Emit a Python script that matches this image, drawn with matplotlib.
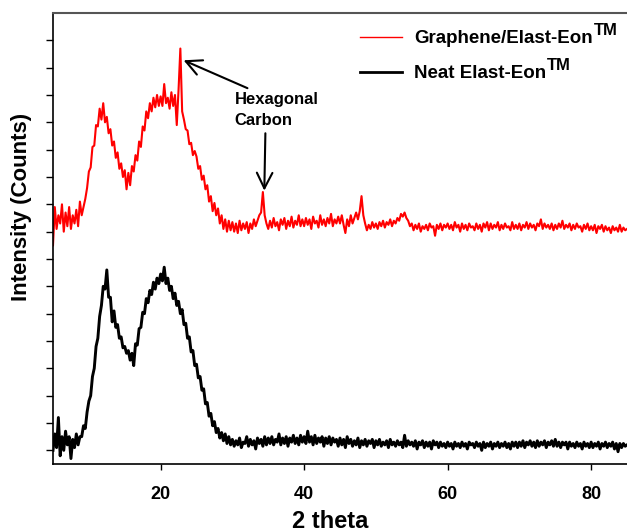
import matplotlib
matplotlib.use("Agg")
import matplotlib.pyplot as plt
import numpy as np

plt.rcParams.update({
    "font.family": "sans-serif",
    "font.sans-serif": ["Liberation Sans", "DejaVu Sans"],
    "font.weight": "bold",
})

# 2 theta scan, 5 to 85 deg in 0.25 deg steps (20 points per row below)
two_theta = np.arange(5.0, 85.001, 0.25)

# intensity (arbitrary units, the two scans are offset vertically)
neat_counts = [
    0.0, 0.6, 0.1, 1.2, -0.2, 0.5, 0.0, 0.7, 0.2, 0.5, -0.3, 0.4, 0.1, 0.6, 0.2, 0.5, 0.5, 0.9, 0.8, 1.4,
    1.8, 2.0, 2.7, 3.0, 3.8, 4.1, 4.9, 5.3, 6.0, 5.9, 6.6, 5.6, 5.6, 4.7, 5.1, 4.5, 4.6, 4.1, 4.15, 3.75,
    3.8, 3.55, 3.65, 3.3, 3.55, 3.1, 3.9, 3.85, 4.45, 4.5, 5.05, 5.0, 5.55, 5.4, 5.85, 5.7, 6.15, 5.9, 6.3, 6.1,
    6.45, 6.2, 6.7, 6.1, 6.3, 5.85, 6.0, 5.55, 5.75, 5.3, 5.45, 5.0, 5.15, 4.6, 4.65, 4.1, 4.15, 3.6, 3.65, 3.1,
    3.15, 2.65, 2.7, 2.2, 2.25, 1.7, 1.75, 1.25, 1.35, 0.9, 1.05, 0.65, 0.8, 0.45, 0.65, 0.35, 0.6, 0.25, 0.5, 0.2,
    0.4, 0.15, 0.35, 0.2, 0.45, 0.1, 0.3, 0.25, 0.5, 0.15, 0.4, 0.2, 0.35, 0.05, 0.45, 0.25, 0.4, 0.15, 0.5, 0.2,
    0.45, 0.25, 0.5, 0.2, 0.4, 0.3, 0.6, 0.2, 0.45, 0.25, 0.5, 0.15, 0.45, 0.3, 0.55, 0.25, 0.45, 0.2, 0.55, 0.3,
    0.5, 0.25, 0.7, 0.3, 0.5, 0.2, 0.55, 0.25, 0.45, 0.3, 0.5, 0.15, 0.45, 0.25, 0.5, 0.2, 0.45, 0.3, 0.4, 0.15,
    0.45, 0.2, 0.4, 0.1, 0.5, 0.25, 0.4, 0.15, 0.35, 0.2, 0.45, 0.1, 0.35, 0.2, 0.4, 0.15, 0.35, 0.25, 0.4, 0.1,
    0.35, 0.2, 0.4, 0.15, 0.3, 0.2, 0.35, 0.1, 0.4, 0.2, 0.3, 0.15, 0.35, 0.2, 0.3, 0.1, 0.55, 0.15, 0.35, 0.2,
    0.3, 0.15, 0.35, 0.05, 0.3, 0.2, 0.35, 0.1, 0.3, 0.15, 0.3, 0.05, 0.35, 0.2, 0.3, 0.1, 0.3, 0.15, 0.25, 0.1,
    0.3, 0.15, 0.25, 0.05, 0.3, 0.15, 0.25, 0.1, 0.3, 0.15, 0.25, 0.05, 0.3, 0.2, 0.25, 0.1, 0.3, 0.15, 0.25, 0.0,
    0.3, 0.1, 0.25, 0.15, 0.3, 0.05, 0.25, 0.15, 0.3, 0.1, 0.25, 0.15, 0.3, 0.1, 0.25, 0.05, 0.3, 0.15, 0.3, 0.1,
    0.3, 0.15, 0.35, 0.1, 0.3, 0.2, 0.35, 0.15, 0.3, 0.1, 0.35, 0.15, 0.3, 0.2, 0.35, 0.1, 0.3, 0.2, 0.35, 0.15,
    0.4, 0.15, 0.3, 0.1, 0.3, 0.2, 0.3, 0.05, 0.3, 0.15, 0.25, 0.1, 0.3, 0.15, 0.25, 0.05, 0.3, 0.15, 0.25, 0.1,
    0.3, 0.1, 0.25, 0.15, 0.3, 0.05, 0.25, 0.15, 0.3, 0.1, 0.25, 0.15, 0.3, 0.05, 0.25, -0.05, 0.25, 0.1, 0.25, 0.15,
    0.2,
]

graphene_counts = [
    7.5, 8.9, 8.1, 8.6, 8.3, 9.0, 8.0, 8.7, 8.2, 8.9, 8.1, 8.6, 8.3, 8.8, 8.2, 9.1, 8.6, 8.9, 9.2, 9.6,
    10.2, 10.35, 11.1, 11.15, 11.9, 11.85, 12.5, 12.1, 12.7, 12.0, 12.2, 11.6, 11.75, 11.15, 11.3, 10.7, 10.9, 10.3, 10.5, 10.0,
    10.25, 9.55, 10.15, 9.7, 10.4, 10.2, 10.8, 10.6, 11.3, 11.1, 11.85, 11.7, 12.4, 12.15, 12.7, 12.4, 12.9, 12.55, 13.0, 12.6,
    12.95, 12.6, 13.4, 12.7, 12.9, 12.5, 13.1, 12.6, 13.0, 11.9, 13.2, 14.7, 12.4, 12.1, 11.75, 11.7, 11.2, 11.25, 10.8, 10.95,
    10.75, 10.3, 10.4, 9.9, 10.05, 9.55, 9.7, 9.1, 9.3, 8.75, 9.05, 8.6, 8.85, 8.3, 8.6, 8.1, 8.45, 8.0, 8.4, 8.05,
    8.35, 8.0, 8.3, 7.95, 8.4, 8.05, 8.3, 8.1, 8.35, 7.95, 8.3, 8.1, 8.45, 8.2, 8.4, 8.6, 8.7, 9.45, 8.6, 8.3,
    8.1, 8.4, 8.15, 8.5, 8.2, 8.35, 8.05, 8.45, 8.25, 8.5, 8.1, 8.4, 8.2, 8.55, 8.15, 8.4, 8.25, 8.6, 8.2, 8.45,
    8.2, 8.5, 8.25, 8.45, 8.1, 8.55, 8.3, 8.4, 8.15, 8.6, 8.25, 8.45, 8.2, 8.5, 8.3, 8.65, 8.2, 8.45, 8.3, 8.55,
    8.3, 8.6, 8.25, 7.95, 8.45, 8.2, 8.6, 8.3, 8.5, 8.7, 8.45, 8.75, 9.3, 8.6, 8.3, 8.05, 8.25, 8.1, 8.35, 8.15,
    8.3, 8.1, 8.35, 8.2, 8.4, 8.15, 8.35, 8.25, 8.45, 8.2, 8.4, 8.3, 8.5, 8.4, 8.65, 8.55, 8.7, 8.5, 8.4, 8.2,
    8.3, 8.05, 8.25, 8.1, 8.3, 8.0, 8.2, 8.1, 8.25, 8.05, 8.3, 8.15, 8.2, 7.85, 8.25, 8.1, 8.3, 8.05, 8.25, 8.15,
    8.3, 8.1, 8.25, 8.05, 8.35, 8.15, 8.25, 8.0, 8.3, 8.1, 8.25, 8.05, 8.3, 8.15, 8.2, 8.05, 8.3, 8.1, 8.25, 8.0,
    8.3, 8.15, 8.35, 8.05, 8.3, 8.1, 8.25, 8.15, 8.35, 8.05, 8.25, 8.1, 8.3, 8.15, 8.2, 8.05, 8.35, 8.1, 8.25, 8.1,
    8.3, 8.05, 8.25, 8.15, 8.35, 8.1, 8.3, 8.15, 8.25, 8.05, 8.3, 8.2, 8.45, 8.1, 8.3, 8.15, 8.25, 8.1, 8.3, 8.05,
    8.25, 8.1, 8.3, 8.15, 8.4, 8.1, 8.25, 8.15, 8.3, 8.05, 8.25, 8.1, 8.3, 8.15, 8.2, 8.0, 8.25, 8.1, 8.3, 8.05,
    8.2, 8.05, 8.25, 7.95, 8.2, 8.1, 8.25, 8.0, 8.2, 8.05, 8.15, 7.95, 8.2, 8.05, 8.15, 8.0, 8.25, 8.0, 8.15, 8.05,
    8.1,
]

labels = ["Graphene/Elast-Eon", "Neat Elast-Eon"]
W, H = 627, 532

fig = plt.figure(figsize=(W / 100, H / 100), dpi=100)
ax = fig.add_axes([53 / W, 1 - 464 / H, 1 - 53 / W, (464 - 13) / H])

ax.plot(two_theta, graphene_counts, color="#ff0000", lw=1.5, label=labels[0])
ax.plot(two_theta, neat_counts, color="black", lw=2.1, label=labels[1])

ax.set_xlim(5, 85)
ax.set_ylim(-0.5, 16)
ax.set_xticks([20, 40, 60, 80])
ax.set_yticks(range(0, 16))
ax.set_yticklabels([])
ax.tick_params(axis="x", direction="out", length=4, width=1, labelsize=13, pad=12)
ax.tick_params(axis="y", direction="out", length=5, width=1)

ax.spines["right"].set_visible(False)
ax.spines["top"].set_color("#555555")
ax.spines["top"].set_linewidth(1.5)
ax.spines["left"].set_linewidth(1.2)
ax.spines["bottom"].set_linewidth(1.2)

ax.set_xlabel("2 theta", fontsize=17, fontweight="bold")
ax.xaxis.set_label_coords((330 - 53) / 574, (464 - 510) / 451)
ax.set_ylabel("Intensity (Counts)", fontsize=16, fontweight="bold")
ax.yaxis.set_label_coords((32 - 53) / 574, (464 - 207) / 451)

ax.text(30.3, 13.1, "Hexagonal\nCarbon", fontsize=12, fontweight="bold",
        ha="left", va="top", linespacing=1.45)
ax.annotate("", xy=(23.2, 14.27), xytext=(32.1, 13.25),
            arrowprops=dict(arrowstyle="->", lw=1.5, color="black",
                            mutation_scale=28, shrinkA=0, shrinkB=0))
ax.annotate("", xy=(34.45, 9.5), xytext=(34.6, 11.6),
            arrowprops=dict(arrowstyle="->", lw=1.5, color="black",
                            mutation_scale=28, shrinkA=0, shrinkB=0))

leg = fig.legend(loc="upper left", bbox_to_anchor=(360 / W, 1 - 30 / H),
                 frameon=False, fontsize=13.5, handlelength=2.25,
                 handletextpad=0.64, labelspacing=0.95, borderpad=0,
                 borderaxespad=0)
for t in leg.get_texts():
    t.set_fontweight("bold")
leg.get_lines()[0].set_linewidth(1.0)
leg.get_lines()[1].set_linewidth(2.0)

# trademark marks after each legend entry, near full size and raised
fig.canvas.draw()
renderer = fig.canvas.get_renderer()
for t in leg.get_texts():
    bb = t.get_window_extent(renderer)
    fig.text((bb.x1 + 1) / W, (bb.y0 + 12) / H, "TM", fontsize=12,
             fontweight="bold", ha="left", va="baseline")

fig.savefig("out.png", dpi=100)
